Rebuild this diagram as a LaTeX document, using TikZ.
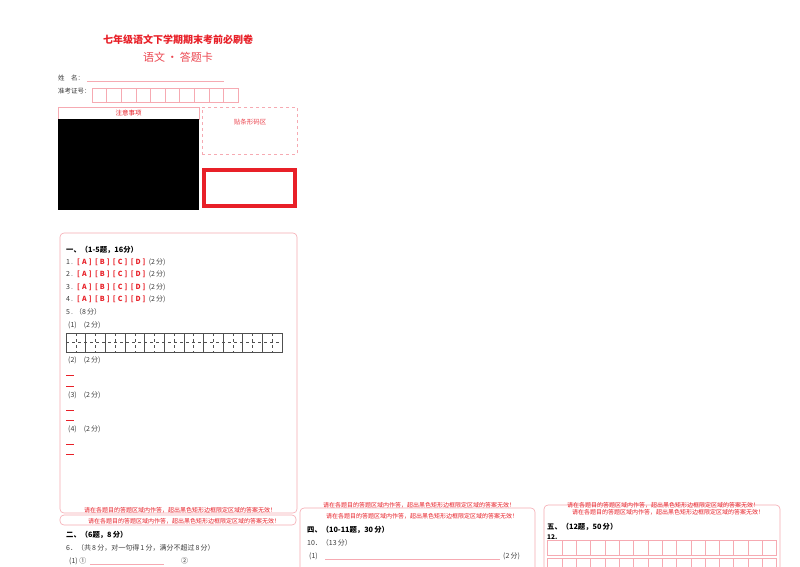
\documentclass[tikz,border=0pt]{standalone}
\usepackage{fontspec}
\setmainfont{Noto Sans CJK SC}
\usetikzlibrary{positioning}
\definecolor{sheetred}{RGB}{232,32,40}
\definecolor{softred}{RGB}{236,70,80}
\definecolor{linepink}{RGB}{246,170,178}
\definecolor{gridgray}{RGB}{80,80,80}
\definecolor{txtgray}{RGB}{60,60,60}
\newcommand{\optbox}[1]{\makebox[14.5pt]{[\hfill#1\hfill]}\hspace{3.4pt}}

\begin{document}
\begin{tikzpicture}[x=1pt,y=-1pt,node distance=2pt,
  lbl/.style={anchor=west,inner sep=0pt,font=\fontsize{7}{8}\selectfont,text=txtgray},
  head/.style={anchor=west,inner sep=0pt,font=\fontsize{7.3}{8}\selectfont\bfseries,text=black},
  warn/.style={inner sep=0pt,font=\fontsize{6}{7}\selectfont,text=sheetred},
  panel/.style={draw=linepink,rounded corners=4pt,line width=0.6pt},
  ans/.style={draw=linepink,line width=0.6pt},
  dash mark/.style={draw=sheetred,line width=0.9pt}]
  \clip (0,0) rectangle (800,566);
  \fill[white] (0,0) rectangle (800,566);
  % header
  \node[inner sep=0pt,font=\fontsize{10}{11}\selectfont\bfseries,text=sheetred] (title) at (178,40) {七年级语文下学期期末考前必刷卷};
  \node[inner sep=0pt,font=\fontsize{11}{12}\selectfont,text=softred] (subtitle) at (178,57) {语文\,•\,答题卡};
  \node[lbl,font=\fontsize{6.5}{7}\selectfont] (name) at (58,78) {姓\quad 名：};
  \node[lbl,font=\fontsize{6.5}{7}\selectfont] (examno) at (58,91) {准考证号：};
  \coordinate (nameA) at (87,81);
  \coordinate (nameB) at (224,81);
  \draw[ans] (nameA) -- (nameB);
  \foreach \i in {0,...,9}
    \draw[ans] (92+\i*14.6,88) rectangle ++(14.6,14);
  % notice and barcode
  \node[ans,minimum width=141pt,minimum height=12pt,inner sep=0pt,font=\fontsize{6.5}{7}\selectfont,text=sheetred] (notice) at (128.5,113) {注意事项};
  \fill[black] (58,119) rectangle (199,210);
  \node[draw=linepink,dashed,minimum width=95pt,minimum height=47pt,inner sep=0pt] (barcode) at (249.5,130.5) {};
  \node[inner sep=0pt,font=\fontsize{6.5}{7}\selectfont,text=softred] (barcodetxt) at (250,122) {贴条形码区};
  \node[draw=sheetred,line width=4pt,minimum width=91pt,minimum height=36pt,inner sep=0pt] (missing) at (249.5,188) {};

  % section one
  \draw[panel] (60,233) rectangle (297,513);
  \node[head] (s1) at (66,250) {一、（1-5题，16分）};
  \foreach \i/\y in {1/262,2/274.5,3/287,4/299.5}
    \node[lbl] (q\i) at (66,\y) {\i\,.\hspace{4pt}\textcolor{sheetred}{\bfseries\optbox{A}\optbox{B}\optbox{C}\optbox{D}}(2\,分)};
  \node[lbl] (q5) at (66,312) {5\,.\;（8\,分）};
  \node[lbl] (q5a) at (68,325) {(1)\quad (2\,分)};
  \foreach \i in {0,...,10} {
    \draw[gridgray,line width=0.6pt] (66+\i*19.64,333) rectangle ++(19.64,19);
    \draw[gridgray,dashed,line width=0.4pt] (66+\i*19.64+9.82,333) -- ++(0,19);
  }
  \draw[gridgray,dashed,line width=0.4pt] (66,342.5) -- (282,342.5);
  \node[lbl] (q5b) at (68,360) {(2)\quad (2\,分)};
  \node[lbl] (q5c) at (68,395) {(3)\quad (2\,分)};
  \node[lbl] (q5d) at (68,429) {(4)\quad (2\,分)};
  \foreach \y in {375,386,410,420,444,454}
    \draw[dash mark] (66,\y) -- (74,\y);
  \node[warn] (warn1) at (180,510) {请在各题目的答题区域内作答，超出黑色矩形边框限定区域的答案无效！};
  \draw[panel] (60,515) rectangle (296,525);
  \node[warn] (warn2) at (184,521) {请在各题目的答题区域内作答，超出黑色矩形边框限定区域的答案无效！};

  % section two
  \node[head] (s2) at (66,535) {二、（6题，8\,分）};
  \node[lbl] (q6) at (66,548) {6．（共\,8\,分，对一句得\,1\,分，满分不超过\,8\,分）};
  \node[lbl] (q6a) at (69,561) {(1) ①};
  \coordinate (q6lineA) at (90,564);
  \coordinate (q6lineB) at (164,564);
  \draw[ans] (q6lineA) -- (q6lineB);
  \node[lbl] (q6b) at (181,561) {②};

  % section four
  \node[warn] (warn3) at (419,505.5) {请在各题目的答题区域内作答，超出黑色矩形边框限定区域的答案无效！};
  \draw[panel] (300,508) rectangle (535,600);
  \node[warn] (warn4) at (422,516) {请在各题目的答题区域内作答，超出黑色矩形边框限定区域的答案无效！};
  \node[head] (s4) at (307,530) {四、（10-11题，30\,分）};
  \node[lbl] (q10) at (307,543) {10．（13\,分）};
  \node[lbl] (q10a) at (309,556) {(1)};
  \coordinate (q10lineA) at (325,559);
  \coordinate (q10lineB) at (500,559);
  \draw[ans] (q10lineA) -- (q10lineB);
  \node[lbl] (q10pts) at (503,556) {(2\,分)};

  % section five
  \draw[panel] (544,505) rectangle (780,600);
  \node[warn] (warn5) at (663,505) {请在各题目的答题区域内作答，超出黑色矩形边框限定区域的答案无效！};
  \node[warn] (warn6) at (668,512.5) {请在各题目的答题区域内作答，超出黑色矩形边框限定区域的答案无效！};
  \node[head] (s5) at (547,527) {五、（12题，50\,分）};
  \node[head,font=\fontsize{6.5}{7}\selectfont\bfseries] (q12) at (547,537) {12.};
  \foreach \i in {0,...,15} {
    \draw[ans] (547.7+\i*14.31,540) rectangle ++(14.31,15);
    \draw[ans] (547.7+\i*14.31,558) rectangle ++(14.31,15);
  }
\end{tikzpicture}
\end{document}
